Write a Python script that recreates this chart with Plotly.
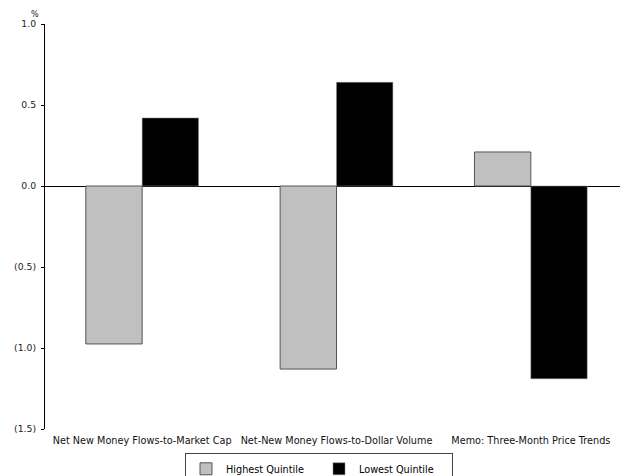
import plotly.graph_objects as go

categories = ["Net New Money Flows-to-Market Cap",
              "Net-New Money Flows-to-Dollar Volume",
              "Memo: Three-Month Price Trends"]
highest = [-0.975, -1.13, 0.21]
lowest = [0.42, 0.64, -1.19]
tick_vals = [1.0, 0.5, 0.0, -0.5, -1.0, -1.5]
tick_text = ["1.0", "0.5", "0.0", "(0.5)", "(1.0)", "(1.5)"]

FONT = "DejaVu Sans"

fig = go.Figure()
fig.add_trace(go.Bar(x=categories, y=highest, name="Highest Quintile",
                     marker=dict(color="#c0c0c0", line=dict(color="#555555", width=1))))
fig.add_trace(go.Bar(x=categories, y=lowest, name="Lowest Quintile",
                     marker=dict(color="#000000", line=dict(color="#888888", width=0.5))))

fig.update_layout(
    width=620, height=468,
    margin=dict(l=37, r=0, t=16, b=47, autoexpand=False),
    paper_bgcolor="white", plot_bgcolor="white",
    barmode="group", bargap=0.42, bargroupgap=0,
    font=dict(family=FONT, size=9.7, color="#222222"),
    showlegend=True,
    legend=dict(orientation="h", x=0.47, xanchor="center",
                y=-0.06, yanchor="top",
                bordercolor="#444444", borderwidth=1,
                font=dict(size=9.7, family=FONT, color="#000000"),
                itemwidth=30, entrywidth=88, tracegroupgap=0),
    xaxis=dict(showline=False, ticks="", showgrid=False, zeroline=False, automargin=False,
               ticklabelstandoff=4,
               tickfont=dict(size=9.7, family=FONT, color="#111111")),
    yaxis=dict(range=[-1.5, 1.0], tickvals=tick_vals, ticktext=tick_text, automargin=False,
               showline=True, linecolor="#000000", linewidth=1,
               ticks="outside", ticklen=3, tickcolor="#000000", ticklabelstandoff=3,
               showgrid=False, zeroline=True, zerolinecolor="#000000", zerolinewidth=1,
               tickfont=dict(size=9.3, family=FONT, color="#222222")),
    annotations=[dict(text="%", xref="paper", yref="paper", x=0, y=1, xshift=-4,
                      yshift=3, xanchor="right", yanchor="bottom", showarrow=False,
                      font=dict(size=8, family=FONT, color="#222222"))],
)

fig.write_html("out.html")
